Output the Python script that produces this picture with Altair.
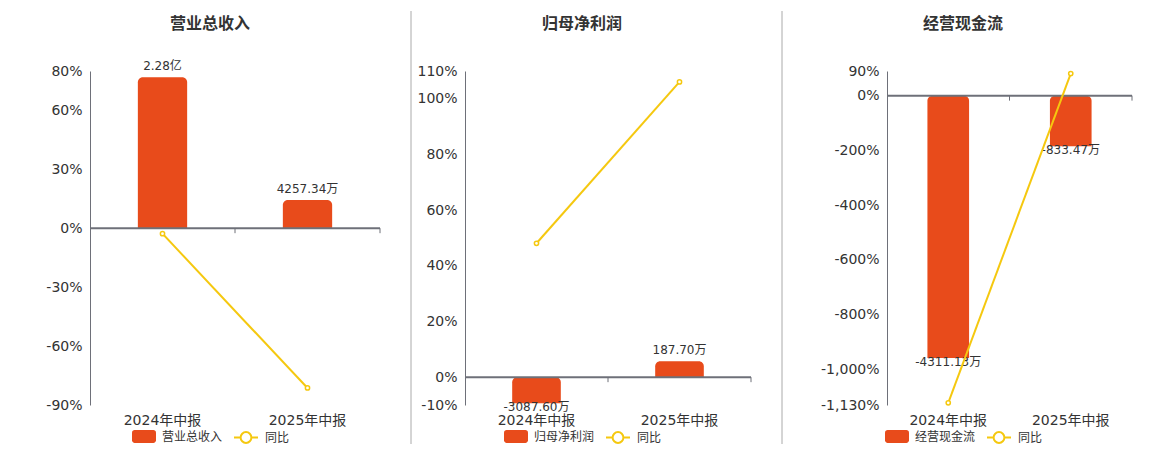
import altair as alt
import pandas as pd

periods = ['2024年中报', '2025年中报']

revenue = [22800.0, 4257.34]  # 万元
revenue_text = ['2.28亿', '4257.34万']
revenue_yoy = [-2.8, -81.33]

profit = [-3087.60, 187.70]
profit_text = ['-3087.60万', '187.70万']
profit_yoy = [48.10, 106.08]

cashflow = [-4311.13, -833.47]
cashflow_text = ['-4311.13万', '-833.47万']
cashflow_yoy = [-1122.0, 80.67]

BAR = '#e84b1b'
LINE = '#f5c80f'
TEXT = '#333333'
AXIS = '#6e7079'
GRID = '#e0e6f1'
FONT = 'DejaVu Sans, Noto Sans CJK SC, sans-serif'
H = 334
BAR_MIN_PX = 16

# legend symbols: rounded swatch for the bars, line with ring for 同比
RECT = ('M-0.78,-0.54H0.78A0.22,0.22 0 0 1 1,-0.32V0.32A0.22,0.22 0 0 1 0.78,0.54'
        'H-0.78A0.22,0.22 0 0 1 -1,0.32V-0.32A0.22,0.22 0 0 1 -0.78,-0.54Z')
RING = 'M-1,0H-0.45M0.45,0H1M0.45,0A0.45,0.45 0 1 1 -0.45,0A0.45,0.45 0 1 1 0.45,0'


def panel(name, values, texts, yoy, pct_domain, pct_ticks, k, width, center, sep_x=None):
    df = pd.DataFrame({'period': periods, 'value': values, 'text': texts,
                       'yoy': yoy, 'series': name, 'yoy_name': '同比'})
    one = pd.DataFrame({'t': [name]})

    bar_domain = [pct_domain[0] * k, pct_domain[1] * k]
    m = BAR_MIN_PX * (bar_domain[1] - bar_domain[0]) / H
    base = alt.Chart(df).transform_calculate(
        shown=f'datum.value >= 0 ? max(datum.value, {m}) : min(datum.value, {-m})'
    )

    x_axis = alt.Axis(labelAngle=0, labelFontSize=14, labelColor=TEXT, labelFont=FONT,
                      labelPadding=8, domain=False, ticks=False, grid=False)
    x_scale = alt.Scale(paddingInner=0, paddingOuter=0)
    x = alt.X('period:N', title=None, sort=periods, scale=x_scale, axis=x_axis)
    bar_y = alt.Y('shown:Q', scale=alt.Scale(domain=bar_domain, nice=False), axis=None, stack=None)
    pct_scale = alt.Scale(domain=pct_domain, nice=False)

    bars = base.mark_bar(width=alt.RelativeBandSize(0.34), cornerRadiusEnd=5).encode(
        x=x, y=bar_y,
        fill=alt.Fill('series:N', scale=alt.Scale(domain=[name], range=[BAR]),
                      legend=alt.Legend(title=None, orient='none', legendX=center - 78, legendY=353.5,
                                        symbolType=RECT, symbolSize=576, symbolStrokeWidth=0,
                                        labelFontSize=12, labelColor=TEXT, labelFont=FONT,
                                        labelOffset=6, padding=0))
    )
    labels_pos = base.transform_filter('datum.value >= 0').mark_text(
        baseline='middle', dy=-11, fontSize=12, color=TEXT, font=FONT
    ).encode(x=x, y=bar_y, text='text:N')
    labels_neg = base.transform_filter('datum.value < 0').mark_text(
        baseline='middle', dy=4, fontSize=12, color=TEXT, font=FONT
    ).encode(x=x, y=bar_y, text='text:N')

    zero = alt.Chart(one).mark_rule(color=AXIS, strokeWidth=2).encode(
        x=alt.value(0), x2=alt.value(width),
        y=alt.YDatum(0, scale=pct_scale, axis=None)
    )
    ticks = base.mark_rule(color=AXIS, strokeWidth=1, y2Offset=5).encode(
        x=alt.X('period:N', title=None, sort=periods, scale=x_scale, axis=x_axis, bandPosition=1),
        y=alt.YDatum(0, scale=pct_scale, axis=None),
        y2=alt.Y2Datum(0)
    )

    line = base.mark_line(strokeWidth=2).encode(
        x=x,
        y=alt.Y('yoy:Q', scale=pct_scale, title=None,
                axis=alt.Axis(orient='left', values=pct_ticks,
                              labelExpr="(datum.value < 0 ? '-' : '') + format(abs(datum.value), ',') + '%'",
                              labelFontSize=14, labelColor=TEXT, labelFont=FONT, labelPadding=8,
                              labelOverlap=False, labelFlush=False, ticks=False,
                              domainColor=AXIS, gridColor=GRID)),
        stroke=alt.Stroke('yoy_name:N', scale=alt.Scale(domain=['同比'], range=[LINE]),
                          legend=alt.Legend(title=None, orient='none', legendX=center + 23, legendY=353.5,
                                            symbolType=RING, symbolSize=576, symbolStrokeWidth=2,
                                            labelFontSize=12, labelColor=TEXT, labelFont=FONT,
                                            labelOffset=6, padding=0))
    )
    points = base.mark_point(shape='circle', filled=True, fill='white', stroke=LINE,
                             strokeWidth=1.5, size=18, opacity=1).encode(
        x=x, y=alt.Y('yoy:Q', scale=pct_scale, axis=None)
    )

    title = alt.Chart(one).mark_text(fontSize=16, fontWeight='bold', color=TEXT, font=FONT,
                                     baseline='middle').encode(
        x=alt.value(center), y=alt.value(-47.2), text='t:N'
    )

    layers = [bars, labels_pos, labels_neg, zero, ticks, line, points, title]
    if sep_x is not None:
        sep = alt.Chart(one).mark_rule(color='#aaaaaa', strokeWidth=1).encode(
            x=alt.value(sep_x), y=alt.value(-60), y2=alt.value(373)
        )
        layers.insert(0, sep)

    return alt.layer(*layers).resolve_scale(y='independent').properties(width=width, height=H)


p1 = panel('营业总收入', revenue, revenue_text, revenue_yoy,
           [-90, 80], [80, 60, 30, 0, -30, -60, -90], 297, 290, 120)
p2 = panel('归母净利润', profit, profit_text, profit_yoy,
           [-10, 110], [110, 100, 80, 60, 40, 20, 0, -10], 331, 286, 117, sep_x=-54)
p3 = panel('经营现金流', cashflow, cashflow_text, cashflow_yoy,
           [-1130, 90], [90, 0, -200, -400, -600, -800, -1000, -1130], 4.5, 245, 76, sep_x=-105)

chart = alt.hconcat(p1, p2, p3, spacing=29).resolve_scale(
    fill='independent', stroke='independent'
).properties(
    padding={'left': 37, 'top': 2, 'right': 5, 'bottom': 0},
    background='white'
).configure_view(stroke=None)

chart.save('out.html', embed_options={'renderer': 'svg', 'actions': False})
